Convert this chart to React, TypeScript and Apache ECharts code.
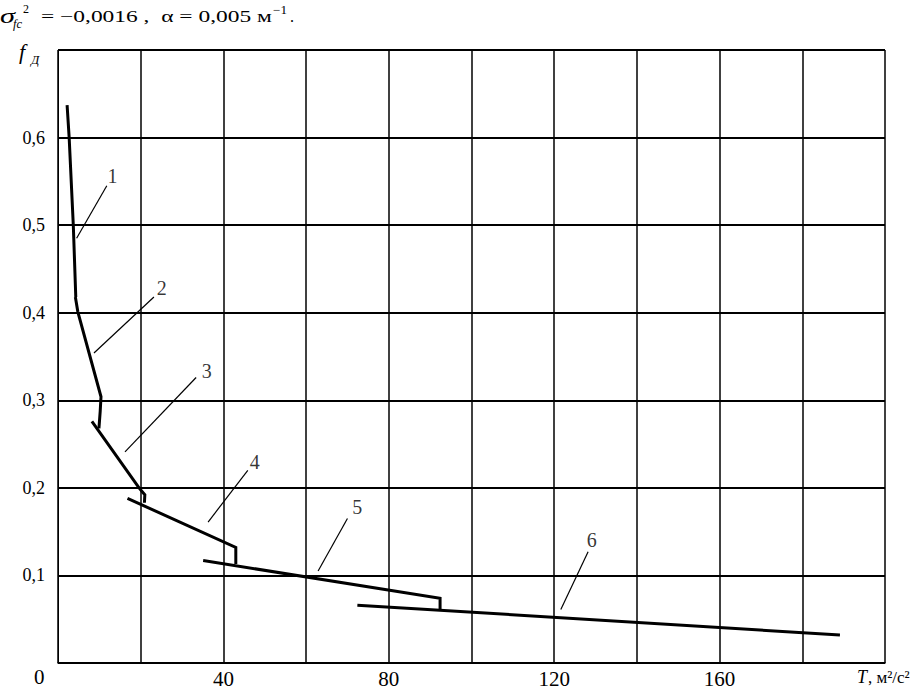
import React, { useEffect, useRef } from "react";
import * as echarts from "echarts";

const FONT = "Liberation Serif";

// axis ticks
const xLabelTicks = [40, 80, 120, 160];
const yMax = 0.7;
const xMax = 200;

// curves (T, f_Д)
const curve1: number[][] = [[2.2, 0.637], [2.7, 0.6], [3.7, 0.5], [4.3, 0.418]];
const curve2: number[][] = [[4.2, 0.418], [4.8, 0.401], [10.4, 0.304], [10.2, 0.287], [9.9, 0.268]];
const curve3: number[][] = [[8.2, 0.276], [19.6, 0.2], [21.0, 0.192], [20.9, 0.183]];
const curve4: number[][] = [[16.8, 0.188], [43.0, 0.132], [43.0, 0.113]];
const curve5: number[][] = [[35.1, 0.117], [92.4, 0.074], [92.4, 0.061]];
const curve6: number[][] = [[72.4, 0.066], [189.1, 0.032]];

// leader lines and their numbers
const leaderNames = ["1", "2", "3", "4", "5", "6"];
const leaders: number[][][] = [
  [[11.8, 0.545], [4.5, 0.485]],
  [[23.2, 0.418], [8.7, 0.354]],
  [[33.4, 0.326], [16.2, 0.241]],
  [[45.9, 0.22], [36.3, 0.161]],
  [[70.0, 0.165], [62.9, 0.105]],
  [[128.2, 0.127], [121.6, 0.061]],
];
const labelPos: number[][] = [
  [13.2, 0.556],
  [25.1, 0.428],
  [36.0, 0.333],
  [47.6, 0.229],
  [72.4, 0.178],
  [129.1, 0.141],
];

function measure(text: string, font: string) {
  const c = document.createElement("canvas").getContext("2d");
  if (!c) return text.length * 8;
  c.font = font;
  return c.measureText(text).width;
}

// text placed with its left edge at x, vertical centre at y; optionally stretched to a width
function txt(x: number, y: number, text: string, fontSize: number, italic = false, width?: number) {
  let scaleX = 1;
  if (width) {
    const w = measure(text, `${italic ? "italic " : ""}${fontSize}px "${FONT}"`);
    if (w > 0) scaleX = width / w;
  }
  return {
    type: "text",
    x,
    y,
    scaleX,
    style: {
      text,
      fontSize,
      fontFamily: FONT,
      fontStyle: italic ? "italic" : "normal",
      fill: "#000",
      verticalAlign: "middle",
      align: "left",
    },
  };
}

export default function App() {
  const ref = useRef<HTMLDivElement>(null);
  useEffect(() => {
    if (!ref.current) return;
    const chart = echarts.init(ref.current, null, { renderer: "svg" });
    const curves = [curve1, curve2, curve3, curve4, curve5, curve6];
    const series: any[] = [];
    leaders.forEach((l) => {
      series.push({
        type: "line",
        data: l,
        symbol: "none",
        lineStyle: { color: "#000", width: 1.2 },
        silent: true,
        z: 3,
      });
    });
    curves.forEach((c) => {
      series.push({
        type: "line",
        data: c,
        symbol: "none",
        lineStyle: { color: "#000", width: 3, join: "miter" },
        silent: true,
        z: 4,
      });
    });
    series.push({
      type: "scatter",
      data: labelPos.map((p, i) => ({ value: p, name: leaderNames[i] })),
      symbolSize: 0,
      itemStyle: { color: "#000" },
      label: {
        show: true,
        position: "inside",
        formatter: (p: any) => p.name,
        color: "#000",
        textBorderWidth: 0,
        textBorderColor: "transparent",
        fontFamily: FONT,
        fontSize: 20,
      },
      silent: true,
      z: 5,
    });

    chart.setOption({
      animation: false,
      backgroundColor: "#fff",
      textStyle: { fontFamily: FONT, color: "#000" },
      grid: { left: 58, right: 32, top: 50, bottom: 28, containLabel: false },
      xAxis: {
        type: "value",
        min: 0,
        max: xMax,
        interval: 20,
        axisLine: { show: true, lineStyle: { color: "#000", width: 1.5 } },
        axisTick: { show: false },
        splitLine: { show: true, lineStyle: { color: "#000", width: 1.5 } },
        axisLabel: {
          color: "#000",
          fontFamily: FONT,
          fontSize: 21,
          margin: 5,
          formatter: (v: number) => (xLabelTicks.includes(v) ? String(v) : ""),
        },
      },
      yAxis: {
        type: "value",
        min: 0,
        max: yMax,
        interval: 0.1,
        axisLine: { show: true, lineStyle: { color: "#000", width: 1 } },
        axisTick: { show: false },
        splitLine: { show: true, lineStyle: { color: "#000", width: 2 } },
        axisLabel: {
          color: "#000",
          fontFamily: FONT,
          fontSize: 18,
          margin: 13,
          formatter: (v: number) =>
            v < 0.05 || v > 0.65 ? "" : v.toFixed(1).replace(".", ","),
        },
      },
      graphic: {
        elements: [
          // title formula (scan is stretched horizontally)
          txt(0, 16, "σ", 21, true, 15),
          txt(13, 24, "fc", 12, true, 9),
          txt(23, 9, "2", 12, false, 6),
          txt(41, 16, "= −0,0016 ,  α = 0,005 м", 16, false, 231),
          txt(273, 10, "−1", 12, false, 14),
          txt(290, 16, ".", 16, false, 4),
          // y axis name
          txt(19, 51, "f", 22, true),
          txt(31, 59, "Д", 13, true),
          // origin
          txt(34, 677, "0", 21),
          // x axis name
          txt(857, 677, "T", 18, true),
          txt(868, 677, ", м²/с²", 17),
        ],
      },
      series,
    });
    return () => chart.dispose();
  }, []);
  return (
    <div
      ref={ref}
      style={{ position: "absolute", left: 0, top: 0, width: 917, height: 691, background: "#fff" }}
    />
  );
}
